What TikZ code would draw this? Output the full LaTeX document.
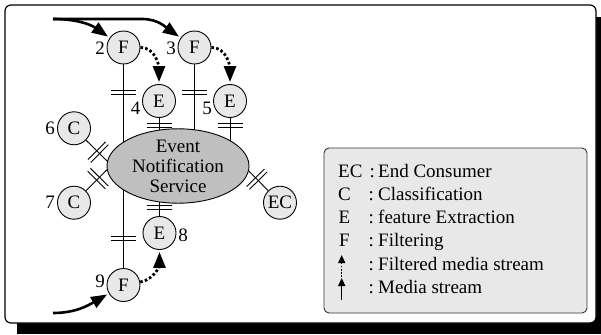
\documentclass[tikz,border=0pt]{standalone}
\usepackage{fontspec}
\setmainfont{Liberation Serif}
\newfontfamily\tnr{Liberation Serif}
\usetikzlibrary{arrows.meta,decorations.markings,shapes.geometric}
\pgfdeclarelayer{back}
\pgfdeclarelayer{mid}
\pgfsetlayers{back,mid,main}
\begin{document}
\begin{tikzpicture}[x=1pt,y=-1pt,
  font=\tnr\fontsize{19}{20}\selectfont,
  proc/.style={circle,draw,line width=0.9pt,fill=black!9,minimum size=33pt,inner sep=0pt},
  ens/.style={ellipse,draw,line width=0.9pt,fill=black!25,minimum width=142pt,minimum height=72pt,inner sep=0pt,align=center},
  lbl/.style={inner sep=0pt},
  link/.style={line width=0.9pt},
  dbar/.style={postaction={decorate,decoration={markings,mark=at position #1 with {\draw[line width=0.9pt] (-2pt,-12.5pt)--(-2pt,12.5pt) (2pt,-12.5pt)--(2pt,12.5pt);}}}},
  flow/.style={line width=2.6pt,-{Triangle[length=16pt,width=12pt]},shorten >=2pt},
  filt/.style={line width=2.8pt,dash pattern=on 2.6pt off 2.2pt,-{Triangle[length=16pt,width=12pt]},shorten >=2pt},
  legtxt/.style={anchor=base west,inner sep=0pt},
  legbox/.style={draw=black!80,line width=0.9pt,rounded corners=5pt,fill=black!9,minimum width=263pt,minimum height=165pt,inner sep=0pt}
]
\useasboundingbox (0,0) rectangle (601,334);
\begin{pgfonlayer}{back}
  \fill[black] (17,17) rectangle (601,334);
  \draw[line width=1.2pt,fill=white,rounded corners=6pt] (5,5) rectangle (596,323);
\end{pgfonlayer}

% nodes
\node[ens] (ENS) at (178,166) {Event\\Notification\\Service};
\node[proc] (F2) at (123.5,47.5) {F};
\node[proc] (F3) at (194.5,47.5) {F};
\node[proc] (E4) at (159,101) {E};
\node[proc] (E5) at (230,101) {E};
\node[proc] (C6) at (74,128.3) {C};
\node[proc] (C7) at (74,202.7) {C};
\node[proc] (EC) at (280,202.7) {EC};
\node[proc] (E8) at (159.5,233) {E};
\node[proc] (F9) at (123.5,285) {F};

% number labels
\node[lbl] (n2) at (100,48) {2};
\node[lbl] (n3) at (171,48) {3};
\node[lbl] (n4) at (135.5,108) {4};
\node[lbl] (n5) at (207,108) {5};
\node[lbl] (n6) at (50,128) {6};
\node[lbl] (n7) at (50,202) {7};
\node[lbl] (n8) at (183,235) {8};
\node[lbl] (n9) at (100,281) {9};

% links to the notification service
\begin{pgfonlayer}{mid}
  \draw[link,dbar=28pt,dbar=-29.5pt] (F2) -- (F9);
  \draw[link,dbar=28pt] (F3) -- (F3 |- ENS.center);
  \draw[link,dbar=7.5pt] (E4) -- (E4 |- ENS.center);
  \draw[link,dbar=7.5pt] (E5) -- (E5 |- ENS.center);
  \draw[link,dbar=8.5pt] (E8) -- (E8 |- ENS.center);
  \draw[link,dbar=17pt] (C6) -- (ENS.176);
  \draw[link,dbar=17pt] (C7) -- (ENS.183);
  \draw[link,dbar=16pt] (EC) -- (ENS.-4);
\end{pgfonlayer}

% media streams
\coordinate (in1) at (53,19);
\coordinate (in1b) at (142,19);
\coordinate (in2) at (53,313);
\draw[flow] (in1) to[out=0,in=145] (F2);
\draw[flow] (in1) -- (in1b) to[out=0,in=145] (F3);
\draw[flow] (in2) to[out=0,in=210] (F9);

% filtered media streams
\draw[filt] (F2) to[out=0,in=90] (E4);
\draw[filt] (F3) to[out=0,in=90] (E5);
\draw[filt] (F9) to[out=10,in=-90] (E8);

% legend
\node[legbox] (legend) at (455.5,230.5) {};
\node[legtxt] (s1) at (338,177) {EC};
\node[legtxt] (c1) at (369.5,177) {:};
\node[legtxt] (t1) at (378,177) {End Consumer};
\node[legtxt] (s2) at (338,200.3) {C};
\node[legtxt] (c2) at (368.5,200.3) {:};
\node[legtxt] (t2) at (378,200.3) {Classification};
\node[legtxt] (s3) at (338.5,223.6) {E};
\node[legtxt] (c3) at (368.5,223.6) {:};
\node[legtxt] (t3) at (378,223.6) {feature Extraction};
\node[legtxt] (s4) at (339,246.9) {F};
\node[legtxt] (c4) at (368.5,246.9) {:};
\node[legtxt] (t4) at (378,246.9) {Filtering};
\node[legtxt] (c5) at (368.5,270.2) {:};
\node[legtxt] (t5) at (378,270.2) {Filtered media stream};
\node[legtxt] (c6) at (368.5,293.5) {:};
\node[legtxt] (t6) at (378,293.5) {Media stream};
\coordinate (fa) at (341.7,277);
\coordinate (fb) at (341.7,255);
\coordinate (ma) at (341.7,300);
\coordinate (mb) at (341.7,278);
\draw[line width=1.3pt,dash pattern=on 1.6pt off 1.6pt,-{Triangle[length=8pt,width=7pt]}] (fa) -- (fb);
\draw[line width=1.5pt,-{Triangle[length=8pt,width=7pt]}] (ma) -- (mb);
\end{tikzpicture}
\end{document}
